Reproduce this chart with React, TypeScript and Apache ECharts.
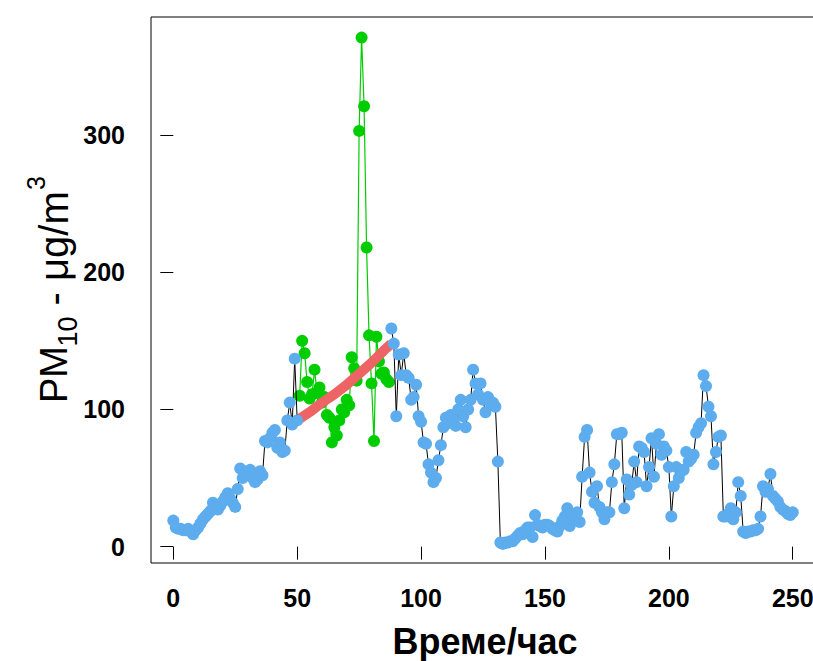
import React, { useEffect, useRef } from "react";
import * as echarts from "echarts";

// Hour index of first point of each segment
const blueAStart = 0;
const greenStart = 51;
const blueBStart = 88;

// PM10 values (µg/m3)
const blueAValues = [
  19, 14, 13, 13, 12, 12, 13, 11, 9, 12,
  14, 17, 20, 22, 24, 26, 32, 28, 27, 30,
  33, 36, 39, 35, 32, 29, 42, 57, 50, 52,
  55, 56, 50, 47, 49, 55, 52, 77, 76, 79,
  83, 85, 72, 76, 69, 70, 92, 105, 89, 137,
  92,
];

const greenValues = [
  110, 150, 141, 120, 108, 111, 129, 112, 116, 105,
  109, 96, 94, 76, 87, 81, 92, 100, 98, 107,
  103, 138, 130, 121, 303, 371, 321, 218, 154, 119,
  77, 153, 135, 126, 127, 122, 120,
];

const blueBValues = [
  159, 148, 95, 140, 125, 141, 125, 123, 107, 109,
  118, 95, 91, 76, 75, 60, 54, 47, 50, 63,
  74, 87, 94, 90, 96, 92, 88, 100, 107, 95,
  87, 100, 107, 129, 119, 111, 119, 107, 98, 109,
  105, 105, 102, 62, 3, 2, 3, 3, 4, 4,
  6, 8, 10, 9, 12, 14, 14, 7, 23, 16,
  15, 14, 16, 16, 15, 13, 12, 11, 15, 19,
  22, 28, 15, 24, 22, 25, 18, 51, 80, 85,
  54, 40, 32, 44, 29, 25, 20, 25, 25, 47,
  60, 82, 82, 83, 28, 49, 38, 45, 62, 47,
  73, 72, 69, 44, 58, 79, 51, 75, 82, 67,
  73, 70, 58, 22, 44, 58, 50, 55, 56, 69,
  62, 64, 67, 83, 87, 90, 125, 117, 102, 95,
  60, 69, 80, 81, 22, 22, 24, 28, 20, 25,
  47, 37, 11, 10, 11, 11, 12, 12, 13, 22,
  44, 40, 42, 53, 37, 35, 33, 29, 27, 26,
  24, 23, 25,
];

// Trend curve
const trendHours = [50, 55, 60, 65, 70, 75, 80, 85, 88];
const trendValues = [92, 98, 105, 111, 118, 126, 134, 143, 148];

const xTicks = [0, 50, 100, 150, 200, 250];
const yTicks = [0, 100, 200, 300];

const xTitle = "Време/час";

const FONT = "'Liberation Sans', Arial, Helvetica, sans-serif";
const BLUE = "#5CACEE";
const GREEN = "#00CD00";
const RED = "#EE6363";

const toPairs = (start: number, vals: number[]) => vals.map((v, i) => [start + i, v]);

export default function App() {
  const ref = useRef<HTMLDivElement>(null);
  useEffect(() => {
    if (!ref.current) return;
    const chart = echarts.init(ref.current, null, { renderer: "svg" });
    const pointSeries = (name: string, data: number[][], lineColor: string, pointColor: string, lw: number, z: number) => ({
      name,
      type: "line",
      data,
      z,
      silent: true,
      showSymbol: true,
      symbol: "circle",
      symbolSize: 12,
      lineStyle: { color: lineColor, width: lw },
      itemStyle: { color: pointColor },
      emphasis: { disabled: true },
    });
    const rotText = (text: string, x: number, y: number, size: number) => ({
      type: "text",
      x,
      y,
      rotation: Math.PI / 2,
      silent: true,
      style: {
        text,
        fill: "#000",
        font: `${size}px ${FONT}`,
        align: "left",
        verticalAlign: "middle",
        textAlign: "left",
        textVerticalAlign: "middle",
      },
    });
    chart.setOption({
      animation: false,
      backgroundColor: "#fff",
      grid: {
        left: 151,
        top: 17,
        width: 669,
        height: 546,
        show: true,
        borderColor: "#000",
        borderWidth: 1,
        containLabel: false,
      },
      xAxis: {
        type: "value",
        min: -9,
        max: 261,
        axisLine: { show: false },
        splitLine: { show: false },
        axisTick: { show: true, customValues: xTicks, length: 13, lineStyle: { color: "#000", width: 1 } },
        axisLabel: {
          customValues: xTicks,
          margin: 22,
          fontSize: 25,
          fontWeight: "bold",
          fontFamily: FONT,
          color: "#000",
        },
      },
      yAxis: {
        type: "value",
        min: -11.9,
        max: 386,
        axisLine: { show: false },
        splitLine: { show: false },
        axisTick: { show: true, customValues: yTicks, length: 13, lineStyle: { color: "#000", width: 1 } },
        axisLabel: {
          customValues: yTicks,
          margin: 26,
          fontSize: 25,
          fontWeight: "bold",
          fontFamily: FONT,
          color: "#000",
        },
      },
      graphic: [
        rotText("PM", 54, 403, 38),
        rotText("10", 67.5, 346.5, 27),
        rotText(" - μg/m", 54, 316.5, 40),
        rotText("3", 36, 190, 25),
        {
          type: "text",
          x: 485,
          y: 641,
          silent: true,
          style: {
            text: xTitle,
            fill: "#000",
            font: `bold 36px ${FONT}`,
            align: "center",
            verticalAlign: "middle",
            textAlign: "center",
            textVerticalAlign: "middle",
          },
        },
      ],
      series: [
        pointSeries("green", toPairs(greenStart, greenValues), GREEN, GREEN, 1.2, 2),
        {
          name: "trend",
          type: "line",
          data: trendHours.map((h, i) => [h, trendValues[i]]),
          z: 3,
          silent: true,
          showSymbol: false,
          symbol: "none",
          lineStyle: { color: RED, width: 10, cap: "butt" },
          emphasis: { disabled: true },
        },
        pointSeries("blueA", toPairs(blueAStart, blueAValues), "#000", BLUE, 1, 4),
        pointSeries("blueB", toPairs(blueBStart, blueBValues), "#000", BLUE, 1, 4),
      ],
    });
    return () => chart.dispose();
  }, []);
  return (
    <div
      style={{ position: "fixed", left: 0, top: 0, width: 813, height: 661, overflow: "hidden", background: "#fff" }}
    >
      <div ref={ref} style={{ position: "absolute", left: 0, top: 0, width: 840, height: 661 }} />
    </div>
  );
}
